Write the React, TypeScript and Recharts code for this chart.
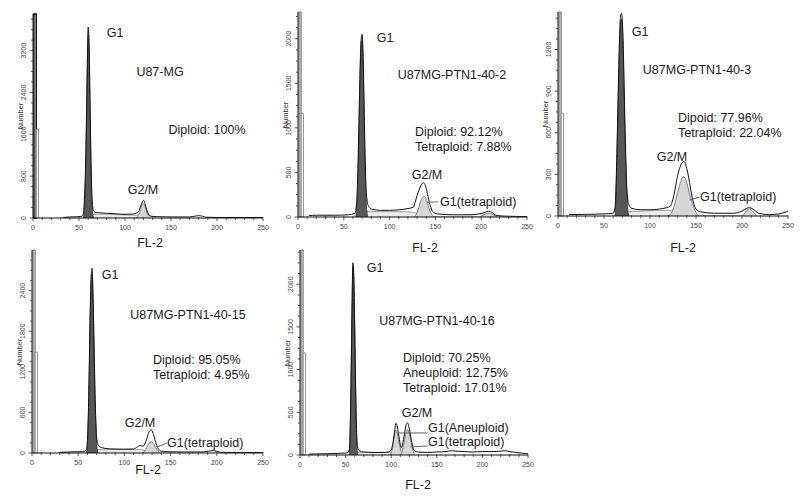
import React from 'react'
import { ComposedChart, Area, Line, XAxis, YAxis, ReferenceArea, ReferenceLine } from 'recharts'

type Pt = [number, number]

// x = FL-2 channel, y = cell count
const xMajor = [0, 50, 100, 150, 200, 250]

// U87-MG
const p1Total: Pt[] = [[33, 10], [40, 20], [50, 25], [54, 40], [55, 120], [56, 400], [57, 900], [58, 1800], [59, 2900], [60, 3650], [61, 3300], [62, 2200], [63, 1100], [64, 450], [65, 200], [66, 130], [68, 110], [72, 100], [80, 90], [90, 80], [100, 70], [108, 75], [112, 90], [115, 130], [117, 220], [119, 310], [120, 340], [121, 320], [122, 260], [124, 140], [126, 60], [128, 35], [135, 25], [150, 20], [170, 20], [176, 35], [180, 45], [184, 35], [188, 15], [200, 10], [220, 10], [250, 8]]
const p1G1: Pt[] = [[55, 0], [56, 250], [57, 750], [58, 1650], [59, 2800], [60, 3500], [61, 3150], [62, 2050], [63, 1000], [64, 350], [65, 80], [66, 0]]
const p1G2: Pt[] = [[112, 0], [114, 40], [116, 110], [118, 220], [120, 270], [122, 210], [124, 100], [126, 30], [128, 0]]
const p1S: Pt[] = [[62, 0], [64, 70], [75, 75], [100, 60], [115, 50], [120, 0]]
const p1YTicks = [0, 800, 1600, 2400, 3200]

// U87MG-PTN1-40-2
const p2Total: Pt[] = [[12, 15], [20, 20], [40, 20], [55, 25], [62, 40], [64, 150], [65, 400], [66, 800], [67, 1300], [68, 1750], [69, 2000], [70, 2050], [71, 1850], [72, 1350], [73, 800], [74, 400], [75, 220], [77, 120], [80, 90], [90, 75], [100, 75], [110, 80], [120, 95], [126, 110], [128, 170], [130, 240], [132, 300], [134, 350], [136, 380], [137, 385], [138, 375], [140, 320], [142, 230], [144, 140], [146, 80], [148, 50], [152, 35], [170, 25], [190, 25], [200, 40], [205, 55], [208, 65], [212, 50], [216, 20], [225, 10], [250, 5]]
const p2G1: Pt[] = [[63, 0], [64, 100], [65, 300], [66, 650], [67, 1150], [68, 1650], [69, 1950], [70, 1980], [71, 1750], [72, 1250], [73, 700], [74, 300], [75, 90], [76, 0]]
const p2G2: Pt[] = [[127, 0], [130, 50], [132, 110], [134, 180], [136, 220], [138, 230], [140, 200], [142, 130], [144, 70], [146, 30], [149, 0], [198, 0], [203, 25], [208, 45], [213, 25], [218, 0]]
const p2S: Pt[] = [[72, 0], [75, 60], [90, 60], [110, 60], [125, 55], [132, 30], [140, 0]]
const p2YTicks = [0, 500, 1000, 1500, 2000]

// U87MG-PTN1-40-3
const p3Total: Pt[] = [[12, 10], [30, 12], [50, 15], [60, 20], [62, 60], [63, 200], [64, 450], [65, 750], [66, 1050], [67, 1300], [68, 1440], [69, 1460], [70, 1400], [71, 1200], [72, 900], [73, 600], [74, 350], [75, 180], [77, 80], [80, 55], [90, 45], [100, 45], [110, 50], [118, 60], [122, 70], [124, 100], [126, 150], [128, 220], [130, 290], [132, 340], [134, 375], [136, 390], [137, 392], [138, 385], [140, 340], [142, 280], [144, 200], [146, 130], [148, 80], [150, 50], [155, 30], [170, 20], [190, 20], [200, 35], [205, 55], [208, 60], [212, 50], [218, 20], [230, 10], [240, 15], [248, 30], [250, 35]]
const p3G1: Pt[] = [[62, 0], [63, 150], [64, 400], [65, 700], [66, 1000], [67, 1250], [68, 1400], [69, 1420], [70, 1350], [71, 1150], [72, 850], [73, 550], [74, 300], [75, 130], [76, 40], [77, 0]]
const p3G2: Pt[] = [[120, 0], [124, 30], [127, 90], [130, 170], [133, 240], [136, 280], [138, 275], [140, 240], [143, 160], [146, 90], [149, 40], [153, 0], [200, 0], [204, 30], [208, 50], [212, 30], [216, 0]]
const p3S: Pt[] = [[72, 0], [75, 30], [90, 35], [110, 40], [125, 40], [135, 20], [142, 0]]
const p3YTicks = [0, 300, 600, 900, 1200]

// U87MG-PTN1-40-15
const p4Total: Pt[] = [[30, 10], [40, 15], [55, 20], [59, 50], [60, 200], [61, 600], [62, 1300], [63, 2100], [64, 2600], [65, 2730], [66, 2350], [67, 1700], [68, 1000], [69, 500], [70, 220], [72, 110], [75, 80], [85, 60], [100, 55], [110, 60], [114, 90], [117, 110], [120, 100], [122, 130], [124, 200], [126, 290], [128, 335], [129, 340], [130, 325], [132, 250], [134, 150], [136, 80], [138, 40], [142, 20], [160, 15], [185, 15], [192, 30], [196, 35], [200, 25], [205, 10], [230, 8], [250, 5]]
const p4G1: Pt[] = [[59, 0], [60, 150], [61, 500], [62, 1200], [63, 2000], [64, 2500], [65, 2650], [66, 2300], [67, 1650], [68, 950], [69, 450], [70, 150], [71, 0]]
const p4G2: Pt[] = [[120, 0], [122, 30], [124, 80], [126, 130], [128, 160], [130, 165], [132, 130], [134, 80], [136, 35], [139, 0]]
const p4S: Pt[] = [[68, 0], [70, 50], [85, 55], [105, 55], [118, 50], [125, 25], [130, 0]]
const p4YTicks = [0, 600, 1200, 1800, 2400]

// U87MG-PTN1-40-16
const p5Total: Pt[] = [[10, 10], [30, 15], [45, 20], [52, 25], [54, 60], [55, 300], [56, 900], [57, 1700], [58, 2250], [59, 2100], [60, 1500], [61, 800], [62, 300], [63, 100], [65, 50], [70, 35], [80, 30], [90, 30], [97, 35], [100, 60], [102, 150], [104, 300], [105, 370], [106, 360], [108, 250], [110, 120], [111, 85], [113, 150], [115, 280], [117, 370], [118, 375], [120, 300], [122, 180], [124, 80], [126, 45], [130, 35], [140, 30], [150, 35], [160, 40], [165, 50], [170, 45], [180, 40], [190, 35], [200, 40], [210, 40], [220, 45], [225, 50], [230, 40], [240, 25], [250, 15]]
const p5G1: Pt[] = [[54, 0], [55, 250], [56, 850], [57, 1650], [58, 2200], [59, 2050], [60, 1450], [61, 750], [62, 250], [63, 0]]
const p5Aneu: Pt[] = [[99, 0], [101, 60], [103, 180], [105, 290], [107, 240], [109, 120], [111, 40], [113, 0]]
const p5Tetra: Pt[] = [[110, 0], [112, 40], [114, 140], [116, 250], [118, 300], [120, 240], [122, 140], [124, 50], [126, 0]]
const p5S: Pt[] = [[60, 0], [62, 30], [80, 30], [98, 30], [104, 0]]
const p5YTicks = [0, 500, 1000, 1500, 2000]

const pts = (a: Pt[]) => a.map(([x, y]) => ({ x, y }))

type Note = { text: string; x: number; y: number; anchor?: 'start' | 'middle' }

type Panel = {
  left: number; top: number; w: number; h: number
  yMax: number; yTicks: number[]; gate: number; darkGate?: boolean
  total: Pt[]; g1: Pt[]; light: Pt[][]; s: Pt[]; leaders: Pt[][]
  notes: Note[]
}

const panels: Panel[] = [
  {
    left: 33, top: 14, w: 230, h: 204, yMax: 3900, yTicks: p1YTicks, gate: 1700, darkGate: true,
    total: p1Total, g1: p1G1, light: [p1G2], s: p1S, leaders: [],
    notes: [
      { text: 'G1', x: 115, y: 33 },
      { text: 'U87-MG', x: 160, y: 72 },
      { text: 'Diploid: 100%', x: 207, y: 130 },
      { text: 'G2/M', x: 143, y: 190 },
      { text: 'FL-2', x: 150, y: 243 },
    ],
  },
  {
    left: 298, top: 12, w: 229, h: 205, yMax: 2300, yTicks: p2YTicks, gate: 1160,
    total: p2Total, g1: p2G1, light: [p2G2], s: p2S, leaders: [[[141, 165], [153, 170]]],
    notes: [
      { text: 'G1', x: 385, y: 38 },
      { text: 'U87MG-PTN1-40-2', x: 452, y: 75 },
      { text: 'Diploid: 92.12%', x: 415, y: 132, anchor: 'start' },
      { text: 'Tetraploid: 7.88%', x: 415, y: 147, anchor: 'start' },
      { text: 'G2/M', x: 427, y: 175 },
      { text: 'G1(tetraploid)', x: 440, y: 202, anchor: 'start' },
      { text: 'FL-2', x: 425, y: 248 },
    ],
  },
  {
    left: 558, top: 12, w: 230, h: 204, yMax: 1470, yTicks: p3YTicks, gate: 740,
    total: p3Total, g1: p3G1, light: [p3G2], s: p3S, leaders: [[[143, 115], [154, 137]]],
    notes: [
      { text: 'G1', x: 640, y: 32 },
      { text: 'U87MG-PTN1-40-3', x: 697, y: 70 },
      { text: 'Dipoid: 77.96%', x: 678, y: 118, anchor: 'start' },
      { text: 'Tetraploid: 22.04%', x: 678, y: 133, anchor: 'start' },
      { text: 'G2/M', x: 672, y: 157 },
      { text: 'G1(tetraploid)', x: 700, y: 197, anchor: 'start' },
      { text: 'FL-2', x: 683, y: 248 },
    ],
  },
  {
    left: 32, top: 250, w: 231, h: 203, yMax: 3000, yTicks: p4YTicks, gate: 1490,
    total: p4Total, g1: p4G1, light: [p4G2], s: p4S, leaders: [[[135, 88], [146, 147]]],
    notes: [
      { text: 'G1', x: 110, y: 275 },
      { text: 'U87MG-PTN1-40-15', x: 188, y: 315 },
      { text: 'Diploid: 95.05%', x: 153, y: 360, anchor: 'start' },
      { text: 'Tetraploid: 4.95%', x: 153, y: 375, anchor: 'start' },
      { text: 'G2/M', x: 140, y: 423 },
      { text: 'G1(tetraploid)', x: 167, y: 443, anchor: 'start' },
      { text: 'FL-2', x: 148, y: 470 },
    ],
  },
  {
    left: 300, top: 250, w: 228, h: 205, yMax: 2400, yTicks: p5YTicks, gate: 1195,
    total: p5Total, g1: p5G1, light: [p5Aneu, p5Tetra], s: p5S,
    leaders: [[[107, 258], [140, 258]], [[121, 94], [140, 105]]],
    notes: [
      { text: 'G1', x: 375, y: 268 },
      { text: 'U87MG-PTN1-40-16', x: 437, y: 321 },
      { text: 'Diploid: 70.25%', x: 403, y: 358, anchor: 'start' },
      { text: 'Aneuploid: 12.75%', x: 403, y: 373, anchor: 'start' },
      { text: 'Tetraploid: 17.01%', x: 403, y: 388, anchor: 'start' },
      { text: 'G2/M', x: 417, y: 413 },
      { text: 'G1(Aneuploid)', x: 428, y: 428, anchor: 'start' },
      { text: 'G1(tetraploid)', x: 428, y: 442, anchor: 'start' },
      { text: 'FL-2', x: 418, y: 485 },
    ],
  },
]

const xTicks: number[] = []
for (let v = 0; v <= 250; v += 10) xTicks.push(v)

const minorTicks = (major: number[]) => {
  const step = (major[1] - major[0]) / 4
  const out: number[] = []
  const end = major[major.length - 1] + major[1] - major[0]
  for (let v = 0; v < end - 1e-6; v += step) out.push(Math.round(v))
  return out
}

const XTick = (props: any) => {
  const { x, y, payload } = props
  const major = xMajor.includes(payload.value)
  return (
    <g>
      <line x1={x} x2={x} y1={y - 1} y2={y + (major ? 3 : 2)} stroke="#333" strokeWidth={0.8} />
      {major && (
        <text x={x} y={y + 12} textAnchor="middle" fontSize={7} fill="#444">{payload.value}</text>
      )}
    </g>
  )
}

const YTick = (props: any) => {
  const { x, y, payload, labels } = props
  const major = labels.includes(payload.value)
  return (
    <g>
      <line x1={x - (major ? 3.5 : 2)} x2={x} y1={y} y2={y} stroke="#333" strokeWidth={0.8} />
      {major && (
        <text x={x - 7} y={y} transform={`rotate(-90 ${x - 7} ${y})`} textAnchor="middle" fontSize={7} fill="#444">
          {payload.value}
        </text>
      )}
    </g>
  )
}

const font = '"Liberation Sans", Arial, Helvetica, sans-serif'

function Histogram({ p }: { p: Panel }) {
  const yW = 30
  const xH = 18
  return (
    <div style={{ position: 'absolute', left: p.left - yW, top: p.top - 4 }}>
      <ComposedChart width={p.w + yW + 6} height={p.h + 4 + xH} margin={{ top: 4, right: 6, left: 0, bottom: 0 }}>
        <XAxis
          dataKey="x" type="number" domain={[0, 250]} ticks={xTicks} interval={0}
          tickSize={0} tickMargin={0} height={xH} stroke="#111"
          tick={(t: any) => <XTick {...t} />}
          allowDataOverflow
        />
        <YAxis
          type="number" domain={[0, p.yMax]} ticks={minorTicks(p.yTicks)} interval={0}
          tickSize={0} tickMargin={0} width={yW} stroke="#111"
          tick={(t: any) => <YTick {...t} labels={p.yTicks} />}
          allowDataOverflow
        />
        <ReferenceArea x1={1} x2={3.5} y1={0} y2={p.yMax} fill={p.darkGate ? '#fff' : '#c4c4c4'} fillOpacity={1}
          stroke={p.darkGate ? '#000' : '#666'} strokeWidth={p.darkGate ? 1.4 : 0.8} ifOverflow="visible" />
        <ReferenceArea x1={3.5} x2={6} y1={0} y2={p.gate} fill="#fff" fillOpacity={1} stroke="#777" strokeWidth={0.8} ifOverflow="visible" />
        <Area data={pts(p.s)} dataKey="y" type="monotone" fill="#ececec" fillOpacity={1} stroke="#8a8a8a" strokeWidth={0.8} isAnimationActive={false} dot={false} />
        {p.light.map((l, i) => (
          <Area key={i} data={pts(l)} dataKey="y" type="monotone" fill="#d6d6d6" fillOpacity={1} stroke="#777" strokeWidth={0.9} isAnimationActive={false} dot={false} />
        ))}
        <Area data={pts(p.g1)} dataKey="y" type="monotone" fill="#575757" fillOpacity={1} stroke="#333" strokeWidth={0.8} isAnimationActive={false} dot={false} />
        <Line data={pts(p.total)} dataKey="y" type="monotone" stroke="#111" strokeWidth={1} dot={false} isAnimationActive={false} />
        {p.leaders.map((seg, i) => (
          <ReferenceLine key={i} segment={seg.map(([x, y]) => ({ x, y }))} stroke="#555" strokeWidth={0.9} ifOverflow="visible" />
        ))}
      </ComposedChart>
      <div style={{
        position: 'absolute', left: yW - 13, top: 4 + p.h / 2, fontSize: 7.5, color: '#333',
        transform: 'translate(-50%, -50%) rotate(-90deg)', fontFamily: font,
      }}>Number</div>
    </div>
  )
}

export default function App() {
  return (
    <div style={{ position: 'absolute', left: 0, top: 0, width: 800, height: 497, background: '#fff', overflow: 'hidden', fontFamily: font }}>
      {panels.map((p, i) => <Histogram key={i} p={p} />)}
      {panels.flatMap((p, i) => p.notes.map((n, j) => (
        <div key={`${i}-${j}`} style={{
          position: 'absolute', left: n.x, top: n.y, fontSize: 12.5, color: '#1a1a1a', whiteSpace: 'nowrap', lineHeight: 1,
          transform: n.anchor === 'start' ? 'translate(0, -50%)' : 'translate(-50%, -50%)',
        }}>{n.text}</div>
      )))}
    </div>
  )
}
